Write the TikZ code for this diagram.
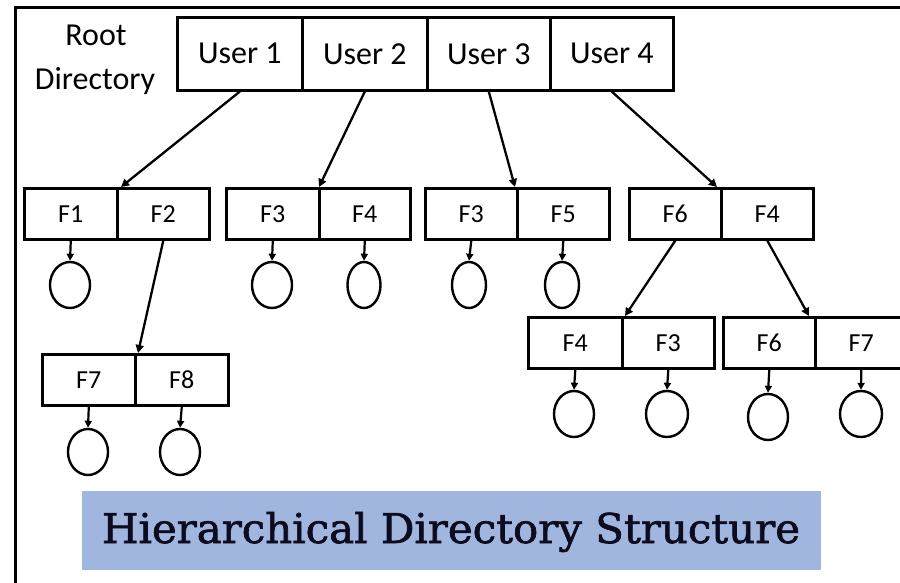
\documentclass[tikz,border=0pt]{standalone}
\usepackage{fontspec}
\setmainfont{Carlito}
\newfontfamily\titlefont[FakeBold=1.6]{DejaVu Serif}
\usetikzlibrary{arrows.meta,shapes.geometric}
\definecolor{bannerblue}{RGB}{160,182,222}
\definecolor{inkdark}{RGB}{12,12,30}

\begin{document}
\begin{tikzpicture}[x=1pt,y=-1pt,
  usercell/.style={draw, line width=2.6pt, inner sep=0pt, anchor=north west,
    minimum height=73pt, font=\fontsize{32}{36}\selectfont},
  filecell/.style={draw, line width=2.6pt, inner sep=0pt, anchor=north west,
    minimum height=51pt, font=\fontsize{26}{30}\selectfont},
  leaf/.style={draw, ellipse, line width=2.4pt, inner sep=0pt, minimum height=46pt},
  link/.style={line width=2.3pt, -{Triangle[length=8pt,width=8pt]}},
  ptr/.style={line width=2.2pt, -{Triangle[length=7pt,width=7pt]}},
  rootlabel/.style={anchor=base, inner sep=0pt, font=\fontsize{32}{36}\selectfont}
]
\clip (0,0) rectangle (900,583);
\fill[white] (0,0) rectangle (900,583);

% outer frame
\draw[line width=3pt] (15,583) -- (15,8) -- (900,8);

% root directory
\node[rootlabel] (rootA) at (96,46) {Root};
\node[rootlabel] (rootB) at (95,90) {Directory};

\node[usercell, minimum width=125pt] (u1) at (176,16) {User 1};
\node[usercell, minimum width=125pt] (u2) at (301,16) {User 2};
\node[usercell, minimum width=123pt] (u3) at (426,16) {User 3};
\node[usercell, minimum width=123pt] (u4) at (549,16) {User 4};

% user directories
\node[filecell, minimum width=93pt] (f1)  at (23,187)  {F1};
\node[filecell, minimum width=92pt] (f2)  at (116,187) {F2};
\node[filecell, minimum width=93pt] (f3)  at (225,187) {F3};
\node[filecell, minimum width=91pt] (f4)  at (318,187) {F4};
\node[filecell, minimum width=92pt] (f3b) at (424,187) {F3};
\node[filecell, minimum width=92pt] (f5)  at (516,187) {F5};
\node[filecell, minimum width=92pt] (f6)  at (628,187) {F6};
\node[filecell, minimum width=92pt] (f4b) at (720,187) {F4};

% sub-directories
\node[filecell, minimum width=93pt] (f7)  at (41,353)  {F7};
\node[filecell, minimum width=93pt] (f8)  at (134,353) {F8};
\node[filecell, minimum width=94pt] (f4c) at (527,316) {F4};
\node[filecell, minimum width=92pt] (f3c) at (621,316) {F3};
\node[filecell, minimum width=92pt] (f6c) at (722,316) {F6};
\node[filecell, minimum width=92pt] (f7c) at (814,316) {F7};

% files
\node[leaf, minimum width=40pt] (c1)  at (70,285)  {};
\node[leaf, minimum width=40pt] (c3)  at (272,285) {};
\node[leaf, minimum width=33pt] (c4)  at (364,285) {};
\node[leaf, minimum width=34pt] (c3b) at (469,285) {};
\node[leaf, minimum width=34pt] (c5)  at (562,285) {};
\node[leaf, minimum width=40pt] (c7)  at (88,452)  {};
\node[leaf, minimum width=40pt] (c8)  at (180,452) {};
\node[leaf, minimum width=40pt] (c4c) at (574,414) {};
\node[leaf, minimum width=42pt] (c3c) at (667,414) {};
\node[leaf, minimum width=40pt] (c6c) at (768,417) {};
\node[leaf, minimum width=42pt] (c7c) at (861,414) {};

% directory links
\draw[link] (u1.south) -- ([xshift=5pt]f2.north west);
\draw[link] (u2.south) -- ([xshift=1pt]f4.north west);
\draw[link] (u3.south) -- ([xshift=-1pt]f5.north west);
\draw[link] (u4.south) -- ([xshift=-3pt]f4b.north west);
\draw[link] (f2.south) -- ([xshift=4pt]f8.north west);
\draw[link] (f6.south) -- ([xshift=4pt]f3c.north west);
\draw[link] (f4b.south) -- ([xshift=-5pt]f7c.north west);

% file pointers
\draw[ptr] (f1.south)  -- (c1.north);
\draw[ptr] (f3.south)  -- (c3.north);
\draw[ptr] (f4.south)  -- (c4.north);
\draw[ptr] (f3b.south) -- (c3b.north);
\draw[ptr] (f5.south)  -- (c5.north);
\draw[ptr] (f7.south)  -- (c7.north);
\draw[ptr] (f8.south)  -- (c8.north);
\draw[ptr] (f4c.south) -- (c4c.north);
\draw[ptr] (f3c.south) -- (c3c.north);
\draw[ptr] (f6c.south) -- (c6c.north);
\draw[ptr] (f7c.south) -- (c7c.north);

% caption banner
\node[fill=bannerblue, inner sep=0pt, minimum width=739pt, minimum height=79pt] (banner) at (451.5,530.5) {};
\node[anchor=base, inner sep=0pt, text=inkdark, font=\titlefont\fontsize{41}{45}\selectfont] (title) at (451,543)
  {\resizebox{698pt}{\height}{Hierarchical Directory Structure}};
\end{tikzpicture}
\end{document}
